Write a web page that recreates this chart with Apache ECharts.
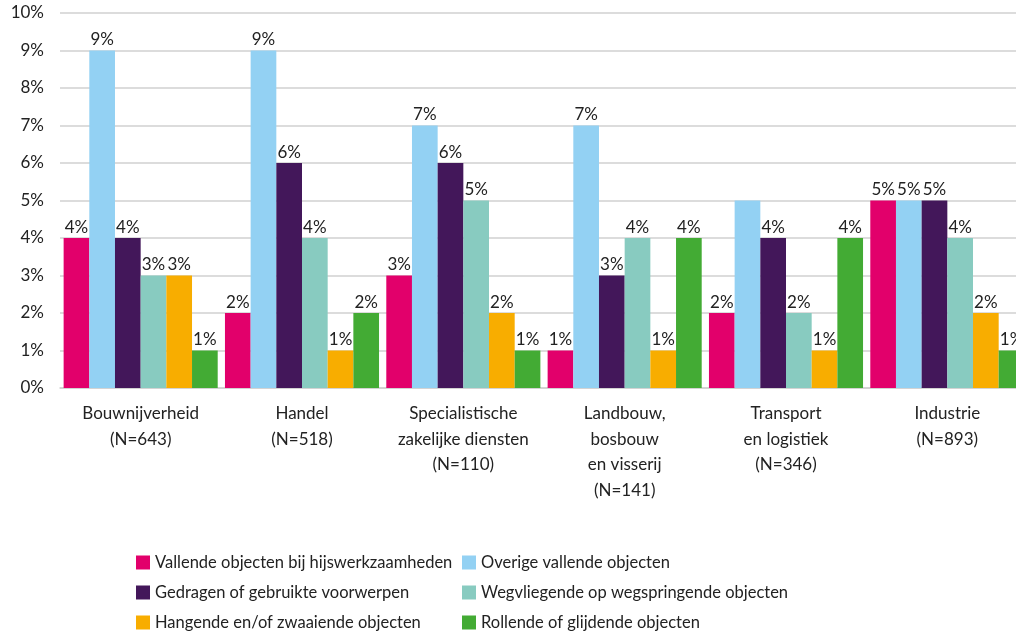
<!DOCTYPE html>
<html><head><meta charset="utf-8">
<script src="https://cdn.jsdelivr.net/npm/echarts@6/dist/echarts.min.js"></script>
<style>html,body{margin:0;padding:0;background:#fff;overflow:hidden}#c{width:1028px;height:634px}</style>
</head><body><div id="c"></div>
<script>
const categories = ["Bouwnijverheid\n(N=643)", "Handel\n(N=518)", "Specialistische\nzakelijke diensten\n(N=110)", "Landbouw,\nbosbouw\nen visserij\n(N=141)", "Transport\nen logistiek\n(N=346)", "Industrie\n(N=893)"];
const seriesNames = ["Vallende objecten bij hijswerkzaamheden", "Overige vallende objecten", "Gedragen of gebruikte voorwerpen", "Wegvliegende op wegspringende objecten", "Hangende en/of zwaaiende objecten", "Rollende of glijdende objecten"];
const vallendeHijs = [4, 2, 3, 1, 2, 5];
const overigeVallende = [9, 9, 7, 7, 5, 5];
const gedragen = [4, 6, 6, 3, 4, 5];
const wegvliegende = [3, 4, 5, 4, 2, 4];
const hangende = [3, 1, 2, 1, 1, 2];
const rollende = [1, 2, 1, 4, 4, 1];
const hiddenLabels = [[], [4], [], [], [], []]; // Transport "Overige vallende objecten" has no label in original
const colors = ["#E2006B", "#93D1F3", "#43175A", "#88CBC0", "#F8AD00", "#43AB34"];
const yTicks = {min: 0, max: 10, interval: 1};

const FONT = "Lato, sans-serif";
const all = [vallendeHijs, overigeVallende, gedragen, wegvliegende, hangende, rollende];
const series = all.map((arr, i) => ({
  name: seriesNames[i], type: 'bar', barGap: '0%', barCategoryGap: '4.5%',
  itemStyle: {color: colors[i]},
  data: arr.map((v, j) => hiddenLabels[i].includes(j) ? {value: v, label: {show: false}} : v),
  label: {show: true, position: 'top', distance: 2, formatter: '{c}%', color: '#222', fontSize: 17, fontFamily: FONT}
}));
const legendPos = [[136, 554], [462, 554], [136, 584], [462, 584], [136, 614], [462, 614]];
const legends = seriesNames.map((n, i) => ({
  data: [n], left: legendPos[i][0], top: legendPos[i][1], itemWidth: 14, itemHeight: 14, icon: 'rect',
  itemGap: 0, padding: 0, textStyle: {fontSize: 16.5, color: '#222', fontFamily: FONT}
}));
const chart = echarts.init(document.getElementById('c'));
chart.setOption({
  animation: false,
  grid: {left: 60, top: 13, right: 0, height: 375, containLabel: false},
  xAxis: {type: 'category', data: categories,
    axisLine: {show: true, lineStyle: {color: '#d0d0d0', width: 1.5}}, axisTick: {show: false},
    axisLabel: {color: '#222', fontSize: 17, fontFamily: FONT, lineHeight: 25.5, margin: 13, interval: 0}},
  yAxis: {type: 'value', min: yTicks.min, max: yTicks.max, interval: yTicks.interval,
    axisLabel: {formatter: '{value}%', color: '#222', fontSize: 17, fontFamily: FONT, margin: 16},
    splitLine: {lineStyle: {color: '#d0d0d0', width: 1.5}}},
  legend: legends,
  series: series
});
</script></body></html>
